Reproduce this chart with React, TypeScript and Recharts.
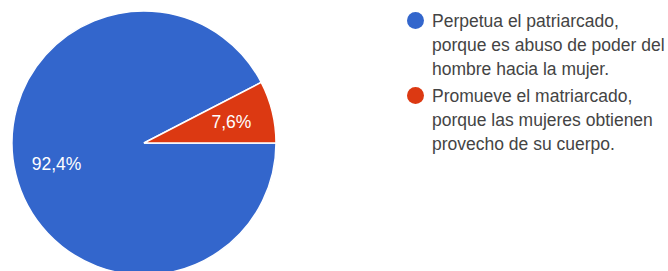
import React from "react";
import { PieChart, Pie, Cell, Legend } from "recharts";

const categories = [
  "Perpetua el patriarcado, porque es abuso de poder del hombre hacia la mujer.",
  "Promueve el matriarcado, porque las mujeres obtienen provecho de su cuerpo.",
];
const legendLines = [
  ["Perpetua el patriarcado,", "porque es abuso de poder del", "hombre hacia la mujer."],
  ["Promueve el matriarcado,", "porque las mujeres obtienen", "provecho de su cuerpo."],
];
const values = [92.4, 7.6];
const valueLabels = ["92,4%", "7,6%"];
const colors = ["#3366cc", "#dc3912"];

const data = categories.map((name, i) => ({ name, value: values[i], label: valueLabels[i] }));
const total = values.reduce((a, b) => a + b, 0);
const startAngle = (360 * values[1]) / total;

const RAD = Math.PI / 180;
const renderLabel = (props: any) => {
  const { cx, cy, midAngle, index } = props;
  const r = 90;
  const x = cx + r * Math.cos(-midAngle * RAD);
  const y = cy + r * Math.sin(-midAngle * RAD);
  return (
    <text
      x={x}
      y={y}
      fill="#ffffff"
      textAnchor="middle"
      dominantBaseline="central"
      fontFamily="'Liberation Sans', Arial, sans-serif"
      fontSize={17.5}
    >
      {valueLabels[index]}
    </text>
  );
};

const LegendContent = () => (
  <div style={{ fontFamily: "'Liberation Sans', Arial, sans-serif", fontSize: 17.5, color: "#444" }}>
    {legendLines.map((lines, i) => (
      <div key={i} style={{ display: "flex", alignItems: "flex-start", marginBottom: 3 }}>
        <div
          style={{
            width: 17,
            height: 17,
            borderRadius: 8.5,
            background: colors[i],
            marginTop: 2.5,
            marginRight: 8,
            flexShrink: 0,
          }}
        />
        <div style={{ lineHeight: "24px" }}>
          {lines.map((l, j) => (
            <div key={j} style={{ whiteSpace: "nowrap" }}>{l}</div>
          ))}
        </div>
      </div>
    ))}
  </div>
);

export default function App() {
  return (
    <div style={{ position: "absolute", left: 0, top: 0, background: "#fff" }}>
      <PieChart width={668} height={271} margin={{ top: 0, right: 0, bottom: 0, left: 0 }}>
        <Pie
          data={data}
          dataKey="value"
          nameKey="name"
          cx={144}
          cy={143}
          outerRadius={132}
          startAngle={startAngle}
          endAngle={startAngle + 360}
          stroke="#ffffff"
          strokeWidth={1.5}
          label={renderLabel}
          labelLine={false}
          isAnimationActive={false}
        >
          {data.map((d, i) => (
            <Cell key={i} fill={colors[i]} />
          ))}
        </Pie>
        <Legend
          content={<LegendContent />}
          wrapperStyle={{ position: "absolute", left: 407, top: 9, width: 261 }}
        />
      </PieChart>
    </div>
  );
}
